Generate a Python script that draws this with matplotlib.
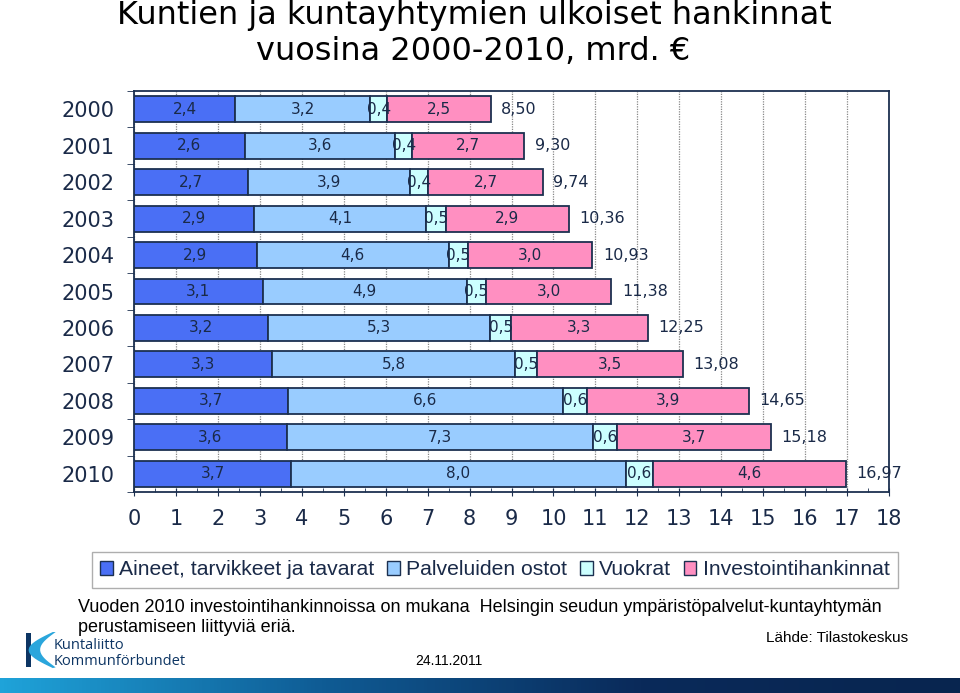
import numpy as np
import matplotlib
matplotlib.use("Agg")
import matplotlib.pyplot as plt
from matplotlib.patches import Patch, Polygon, Rectangle

# --- data (mrd. EUR) ---
years = ["2000", "2001", "2002", "2003", "2004", "2005",
         "2006", "2007", "2008", "2009", "2010"]
aineet = [2.41, 2.64, 2.71, 2.86, 2.93, 3.07, 3.19, 3.30, 3.66, 3.64, 3.74]
palvelut = [3.22, 3.59, 3.87, 4.11, 4.57, 4.86, 5.30, 5.78, 6.56, 7.31, 7.99]
vuokrat = [0.40, 0.40, 0.44, 0.47, 0.47, 0.47, 0.50, 0.52, 0.57, 0.57, 0.64]
invest = [2.47, 2.67, 2.72, 2.92, 2.96, 2.98, 3.26, 3.48, 3.86, 3.66, 4.60]
series_names = ["Aineet, tarvikkeet ja tavarat", "Palveluiden ostot",
                "Vuokrat", "Investointihankinnat"]
colors = ["#4a6ff5", "#99ccff", "#ccffff", "#ff8fc1"]

navy = "#1c3050"
txt = "#1a2a48"
sans = "Liberation Sans"

fig = plt.figure(figsize=(9.6, 6.93), dpi=100)
ax = fig.add_axes([0.1396, 0.29, 0.7865, 0.5787])

y = np.arange(len(years))
series = [aineet, palvelut, vuokrat, invest]
left = np.zeros(len(years))
for vals, col in zip(series, colors):
    vals = np.array(vals)
    ax.barh(y, vals, left=left, height=0.71, color=col, edgecolor=navy,
            linewidth=1.3, zorder=3)
    for yi, l, v in zip(y, left, vals):
        ax.text(l + v / 2, yi, f"{v:.1f}".replace(".", ","), ha="center",
                va="center", fontsize=11, color=txt, family="DejaVu Sans",
                zorder=4)
    left = left + vals

# totals next to the bars
for yi, tot in zip(y, left):
    ax.text(tot + 0.25, yi, f"{tot:.2f}".replace(".", ","), ha="left",
            va="center", fontsize=11.5, color=txt, family="DejaVu Sans")

ax.set_xlim(0, 18)
ax.set_ylim(len(years) - 0.5, -0.5)
ax.set_xticks(range(0, 19))
ax.set_xticks(np.arange(0, 18.5, 0.5), minor=True)
ax.set_yticks(y)
ax.set_yticklabels(years)
ax.set_yticks(np.arange(-0.5, len(years)), minor=True)
ax.tick_params(axis="y", which="major", length=0, pad=14, labelsize=15,
               labelcolor=txt)
ax.tick_params(axis="y", which="minor", length=5, color=navy, direction="out")
ax.tick_params(axis="x", which="major", length=6, color=navy, direction="inout",
               labelsize=15, labelcolor=txt, pad=9)
ax.tick_params(axis="x", which="minor", length=3, color=navy, direction="in")
for lab in ax.get_xticklabels() + ax.get_yticklabels():
    lab.set_family("DejaVu Sans")
ax.grid(axis="x", which="major", color="#888888", linestyle=(0, (1, 1)),
        linewidth=0.9, zorder=0)
for s in ax.spines.values():
    s.set_color(navy)
    s.set_linewidth(1.3)

# title
fig.text(0.494, 0.966, "Kuntien ja kuntayhtymien ulkoiset hankinnat",
         ha="center", va="baseline", fontsize=23, family="DejaVu Sans",
         color="black")
fig.text(0.493, 0.914, "vuosina 2000-2010, mrd. \u20ac",
         ha="center", va="baseline", fontsize=23, family="DejaVu Sans",
         color="black")

# legend
handles = [Patch(facecolor=c, edgecolor=navy, linewidth=1.0) for c in colors]
leg = fig.legend(handles, series_names, loc="center", ncol=4,
                 bbox_to_anchor=(0.5155, 0.1775), frameon=True, fancybox=False,
                 prop={"family": sans, "size": 15.2}, labelcolor=txt,
                 handlelength=0.6, handleheight=0.6, handletextpad=0.3,
                 columnspacing=0.6, borderpad=0.4)
leg.get_frame().set_edgecolor("#9a9a9a")
leg.get_frame().set_linewidth(1.0)

# notes
fig.text(0.081, 0.124, "Vuoden 2010 investointihankinnoissa on mukana  "
         "Helsingin seudun ympäristöpalvelut-kuntayhtymän",
         ha="left", va="center", fontsize=13.0, family=sans, color="black")
fig.text(0.081, 0.094, "perustamiseen liittyviä eriä.",
         ha="left", va="center", fontsize=13.0, family=sans, color="black")
fig.text(0.946, 0.080, "Lähde: Tilastokeskus", ha="right", va="center",
         fontsize=11, family=sans, color="black")
fig.text(0.468, 0.046, "24.11.2011", ha="center", va="center",
         fontsize=10, family=sans, color="black")

# logo
fig.patches.append(Rectangle((0.027, 0.037), 0.005, 0.049, transform=fig.transFigure,
                             facecolor="#0d3563", edgecolor="none"))
t = np.linspace(0, 1, 20)
outer = [(0.055 - 0.028 * np.sin(np.pi * s) * 0.9, 0.088 - 0.052 * s) for s in t]
inner = [(0.058 - 0.018 * np.sin(np.pi * s) * 0.9, 0.037 + 0.051 * s) for s in t]
fig.patches.append(Polygon(outer + inner, closed=True, transform=fig.transFigure,
                           facecolor="#2aa6dc", edgecolor="none"))
fig.text(0.056, 0.068, "Kuntaliitto", ha="left", va="center", fontsize=10.5,
         family="Open Sans", color="#0d3563")
fig.text(0.056, 0.045, "Kommunförbundet", ha="left", va="center", fontsize=10.5,
         family="Open Sans", color="#0d3563")

# gradient strip at bottom
gax = fig.add_axes([0, 0, 1, 0.022])
grad = np.linspace(0, 1, 256).reshape(1, -1)
cmap = matplotlib.colors.LinearSegmentedColormap.from_list(
    "strip", ["#1fa3d9", "#0f5c95", "#0a2a5a", "#08254f"])
gax.imshow(grad, aspect="auto", cmap=cmap, extent=[0, 1, 0, 1])
gax.axis("off")

fig.savefig("out.png", dpi=100)
